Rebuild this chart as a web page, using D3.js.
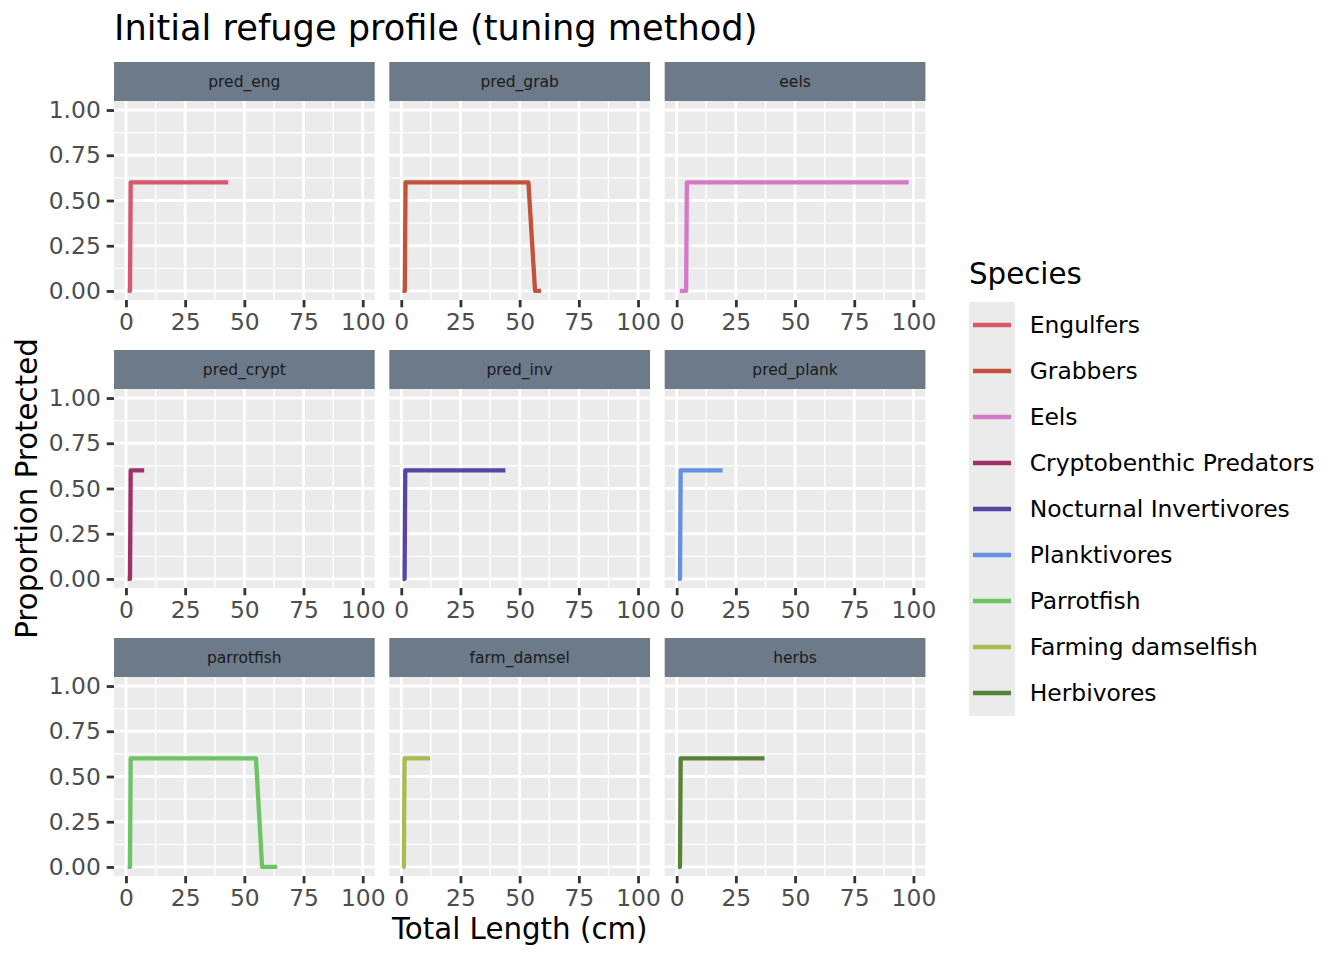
<!DOCTYPE html>
<html>
<head>
<meta charset="utf-8">
<script src="https://cdn.jsdelivr.net/npm/d3@7"></script>
<style>
  html, body { margin: 0; padding: 0; background: #fff; }
  svg { display: block; font-family: "DejaVu Sans", sans-serif; }
</style>
</head>
<body>
<svg id="chart" width="1344" height="960"></svg>
<script>
// ---- data ----
const panels = ["pred_eng", "pred_grab", "eels", "pred_crypt", "pred_inv", "pred_plank", "parrotfish", "farm_damsel", "herbs"];
const species = ["Engulfers", "Grabbers", "Eels", "Cryptobenthic Predators", "Nocturnal Invertivores", "Planktivores", "Parrotfish", "Farming damselfish", "Herbivores"];
const colors = ["#D6586C", "#C0533A", "#D478C8", "#A0306A", "#5944A4", "#6690E0", "#6CC464", "#AABB50", "#5A8234"];
// each profile: [length (cm), proportion protected]
const profEngulfers = [[0.7, 0], [1.7, 0], [2.0, 0.6], [43.2, 0.6]];
const profGrabbers = [[0.5, 0], [1.5, 0], [1.8, 0.6], [53.7, 0.6], [56.5, 0], [59.0, 0]];
const profEels = [[1.3, 0], [4.0, 0], [4.3, 0.6], [98.0, 0.6]];
const profCrypt = [[0.7, 0], [1.7, 0], [2.0, 0.6], [7.7, 0.6]];
const profInv = [[0.6, 0], [1.4, 0], [1.7, 0.6], [44.0, 0.6]];
const profPlank = [[0.6, 0], [1.4, 0], [1.7, 0.6], [19.4, 0.6]];
const profParrot = [[0.7, 0], [1.7, 0], [2.0, 0.6], [54.9, 0.6], [57.5, 0], [63.8, 0]];
const profDamsel = [[0.5, 0], [1.1, 0], [1.4, 0.6], [12.2, 0.6]];
const profHerbs = [[0.6, 0], [1.4, 0], [1.7, 0.6], [37.1, 0.6]];
const profiles = [profEngulfers, profGrabbers, profEels, profCrypt, profInv, profPlank, profParrot, profDamsel, profHerbs];
const xTicks = [0, 25, 50, 75, 100];
const xMinor = [12.5, 37.5, 62.5, 87.5];
const yTicks = [0, 0.25, 0.5, 0.75, 1.0];
const yMinor = [0.125, 0.375, 0.625, 0.875];

// ---- layout ----
const svg = d3.select("#chart");
const colX = [114, 389.3, 664.7];
const panelW = 260.7;
const stripTop = [62, 350, 638];
const stripH = 39;
const panelH = 199;

const x = d3.scaleLinear().domain([-5.05, 105.05]).range([0, panelW]);
const y = d3.scaleLinear().domain([-0.05, 1.05]).range([panelH, 0]);

const line = d3.line().x(d => x(d[0])).y(d => y(d[1]));

panels.forEach((p, i) => {
  const c = i % 3, r = Math.floor(i / 3);
  const px = colX[c], sy = stripTop[r], py = sy + stripH;

  // strip
  svg.append("rect").attr("x", px).attr("y", sy).attr("width", panelW).attr("height", stripH)
    .attr("fill", "#6C7A89");
  svg.append("text").attr("x", px + panelW / 2).attr("y", sy + stripH / 2).attr("dy", "0.35em")
    .attr("text-anchor", "middle").attr("font-size", 15.5).attr("fill", "#1A1A1A").text(p);

  const g = svg.append("g").attr("transform", `translate(${px},${py})`);
  g.append("rect").attr("width", panelW).attr("height", panelH).attr("fill", "#EBEBEB");

  // minor grid
  g.selectAll(".xm").data(xMinor).join("line")
    .attr("x1", d => x(d)).attr("x2", d => x(d)).attr("y1", 0).attr("y2", panelH)
    .attr("stroke", "#fff").attr("stroke-width", 1.4);
  g.selectAll(".ym").data(yMinor).join("line")
    .attr("y1", d => y(d)).attr("y2", d => y(d)).attr("x1", 0).attr("x2", panelW)
    .attr("stroke", "#fff").attr("stroke-width", 1.4);
  // major grid
  g.selectAll(".xM").data(xTicks).join("line")
    .attr("x1", d => x(d)).attr("x2", d => x(d)).attr("y1", 0).attr("y2", panelH)
    .attr("stroke", "#fff").attr("stroke-width", 2.8);
  g.selectAll(".yM").data(yTicks).join("line")
    .attr("y1", d => y(d)).attr("y2", d => y(d)).attr("x1", 0).attr("x2", panelW)
    .attr("stroke", "#fff").attr("stroke-width", 2.8);

  // data line
  g.append("path").datum(profiles[i]).attr("d", line)
    .attr("fill", "none").attr("stroke", colors[i]).attr("stroke-width", 4.3)
    .attr("stroke-linejoin", "round").attr("stroke-linecap", "butt");

  // x axis
  const xa = g.append("g").attr("transform", `translate(0,${panelH})`)
    .call(d3.axisBottom(x).tickValues(xTicks).tickSize(7.3).tickPadding(6).tickFormat(d3.format("d")));
  xa.select(".domain").remove();
  xa.selectAll(".tick line").attr("stroke", "#333").attr("stroke-width", 2.8);
  xa.selectAll(".tick text").attr("font-size", 23.4).attr("fill", "#4D4D4D")
    .attr("font-family", "DejaVu Sans, sans-serif");

  // y axis (first column only)
  if (c === 0) {
    const ya = g.append("g")
      .call(d3.axisLeft(y).tickValues(yTicks).tickSize(7.3).tickPadding(5.9).tickFormat(d3.format(".2f")));
    ya.select(".domain").remove();
    ya.selectAll(".tick line").attr("stroke", "#333").attr("stroke-width", 2.8);
    ya.selectAll(".tick text").attr("font-size", 23.4).attr("fill", "#4D4D4D")
      .attr("font-family", "DejaVu Sans, sans-serif");
  }
});

// titles
svg.append("text").attr("x", 114).attr("y", 40).attr("font-size", 35.2).attr("fill", "#000")
  .text("Initial refuge profile (tuning method)");
svg.append("text").attr("x", (114 + 925.4) / 2).attr("y", 938.5).attr("text-anchor", "middle")
  .attr("font-size", 29.3).attr("fill", "#000").text("Total Length (cm)");
svg.append("text").attr("transform", "translate(37,488.5) rotate(-90)").attr("text-anchor", "middle")
  .attr("font-size", 29.3).attr("fill", "#000").text("Proportion Protected");

// legend
const legX = 969, legTop = 302, keyW = 46, keyH = 46;
svg.append("text").attr("x", legX).attr("y", 283.5).attr("font-size", 29.3).attr("fill", "#000").text("Species");
svg.append("rect").attr("x", legX).attr("y", legTop).attr("width", keyW).attr("height", keyH * species.length)
  .attr("fill", "#EBEBEB");
const items = svg.selectAll(".leg").data(species).join("g")
  .attr("transform", (d, i) => `translate(${legX},${legTop + i * keyH})`);
items.append("line").attr("x1", 4).attr("x2", keyW - 4).attr("y1", keyH / 2).attr("y2", keyH / 2)
  .attr("stroke", (d, i) => colors[i]).attr("stroke-width", 4.3);
items.append("text").attr("x", keyW + 14.7).attr("y", keyH / 2).attr("dy", "0.36em")
  .attr("font-size", 23.4).attr("fill", "#000").text(d => d);
</script>
</body>
</html>
